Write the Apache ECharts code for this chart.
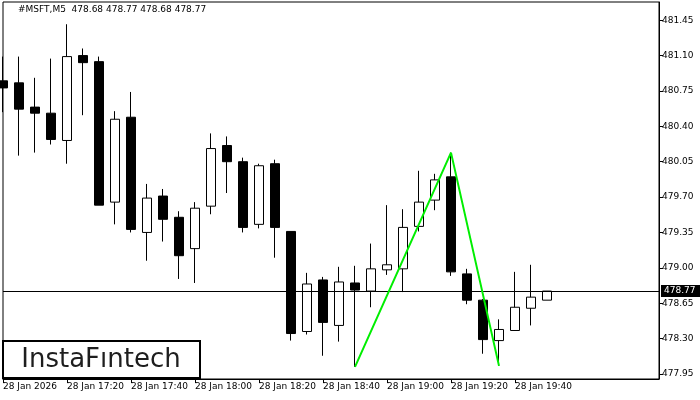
<!DOCTYPE html>
<html>
<head>
<meta charset="utf-8">
<script src="https://cdn.jsdelivr.net/npm/echarts@6/dist/echarts.min.js"></script>
<style>html,body{margin:0;padding:0;background:#fff}#c{width:700px;height:400px}</style>
</head>
<body>
<div id="c"></div>
<script>
var times = ["17:00","17:05","17:10","17:15","17:20","17:25","17:30","17:35","17:40","17:45",
  "17:50","17:55","18:00","18:05","18:10","18:15","18:20","18:25","18:30","18:35",
  "18:40","18:45","18:50","18:55","19:00","19:05","19:10","19:15","19:20","19:25",
  "19:30","19:35","19:40","19:45","19:50","19:55","20:00","20:05","20:10","20:15",
  "20:20","20:25"];
var opens  = [480.85,480.83,480.59,480.53,480.26,481.10,481.04,479.65,480.49,479.35,
  479.71,479.50,479.19,479.61,480.21,480.05,479.43,480.03,479.36,478.37,
  478.88,478.43,478.85,478.77,478.98,478.99,479.41,479.67,479.90,478.94,
  478.68,478.28,478.38,478.60,478.68];
var closes = [480.78,480.57,480.53,480.27,481.09,481.03,479.62,480.47,479.38,479.69,
  479.48,479.12,479.59,480.18,480.05,479.40,480.01,479.40,478.35,478.84,
  478.46,478.86,478.78,478.99,479.03,479.40,479.65,479.87,478.96,478.68,
  478.29,478.39,478.61,478.71,478.77];
var highs  = [481.09,481.09,480.88,481.07,481.41,481.17,481.09,480.55,480.74,479.83,
  479.78,479.56,479.65,480.33,480.30,480.09,480.03,480.07,479.36,478.95,
  478.91,479.01,479.02,479.24,479.62,479.58,479.96,479.93,480.14,478.99,
  478.69,478.49,478.96,479.03,478.77];
var lows   = [480.54,480.11,480.14,480.22,480.03,480.51,479.62,479.43,479.35,479.07,
  479.26,478.89,478.85,479.53,479.74,479.35,479.39,479.10,478.28,478.34,
  478.13,478.27,478.02,478.61,478.93,478.76,479.36,479.57,478.92,478.64,
  478.15,478.03,478.38,478.43,478.68];
var yTicks = [477.95,478.30,478.65,479.00,479.35,479.70,480.05,480.40,480.75,481.10,481.45];
var lastPrice = 478.77;
var patternIdx = [22, 28, 31];
var titleText = "#MSFT,M5  478.68 478.77 478.68 478.77";
var lastLabelIdx = 34;

var candles = opens.map(function(o, i){ return [o, closes[i], lows[i], highs[i]]; });
var pattern = times.map(function(){ return null; });
pattern[patternIdx[0]] = lows[patternIdx[0]];
pattern[patternIdx[1]] = highs[patternIdx[1]];
pattern[patternIdx[2]] = lows[patternIdx[2]];

var FONT = "DejaVu Sans";
var chart = echarts.init(document.getElementById('c'), null, {renderer:'canvas'});
chart.setOption({
  animation: false,
  backgroundColor: '#fff',
  grid: {left: 3, right: 41, top: 2, bottom: 21, show: true, borderColor: '#000', borderWidth: 1, backgroundColor: 'transparent'},
  xAxis: {
    type: 'category', data: times, boundaryGap: false,
    axisLine: {show: true, lineStyle: {color: '#000', width: 1}},
    axisTick: {show: true, length: 4, lineStyle: {color: '#000'},
      interval: function(i){ return i % 4 === 0 && i <= lastLabelIdx; }},
    axisLabel: {show: true, margin: 3, align: 'left', fontFamily: FONT, fontSize: 9, color: '#000',
      interval: function(i){ return i % 4 === 0 && i <= lastLabelIdx; },
      formatter: function(v, i){ return i === 0 ? '28 Jan 2026' : '28 Jan ' + v; }},
    splitLine: {show: false}
  },
  yAxis: {
    type: 'value', position: 'right', min: 477.90, max: 481.63, scale: true,
    axisLine: {show: true, lineStyle: {color: '#000', width: 1}},
    axisTick: {show: true, length: 4, inside: false, lineStyle: {color: '#000'}, customValues: yTicks},
    axisLabel: {show: true, margin: 3, fontFamily: FONT, fontSize: 9, color: '#000', customValues: yTicks,
      formatter: function(v){ return v.toFixed(2); }},
    splitLine: {show: false}
  },
  series: [{
    type: 'candlestick', data: candles, barWidth: 10, clip: true,
    itemStyle: {color: '#fff', color0: '#000', borderColor: '#000', borderColor0: '#000', borderWidth: 1},
    markLine: {
      silent: true, symbol: ['none','none'], animation: false,
      lineStyle: {color: '#000', width: 1, type: 'solid'},
      label: {show: true, position: 'end', distance: 2, formatter: function(p){ return p.value.toFixed(2); },
        backgroundColor: '#000', color: '#fff', fontFamily: FONT, fontSize: 9, padding: [2, 5, 1, 3]},
      data: [{yAxis: lastPrice}]
    }
  }, {
    type: 'line', data: pattern, connectNulls: true, symbol: 'none', z: 5,
    lineStyle: {color: '#00ee00', width: 2}
  }],
  graphic: [
    {type: 'text', left: 18, top: 5, z: 10,
      style: {text: titleText, fontFamily: FONT, fontSize: 9, fill: '#000'}},
    {type: 'rect', z: 20, shape: {x: 3, y: 341, width: 197, height: 37},
      style: {fill: '#fff', stroke: '#000', lineWidth: 2}},
    {type: 'text', z: 21, x: 101, y: 360,
      style: {text: 'InstaF\u0131ntech', fontFamily: FONT, fontSize: 26, fill: '#1e1e1e', align: 'center', verticalAlign: 'middle'}}
  ]
});
</script>
</body>
</html>
